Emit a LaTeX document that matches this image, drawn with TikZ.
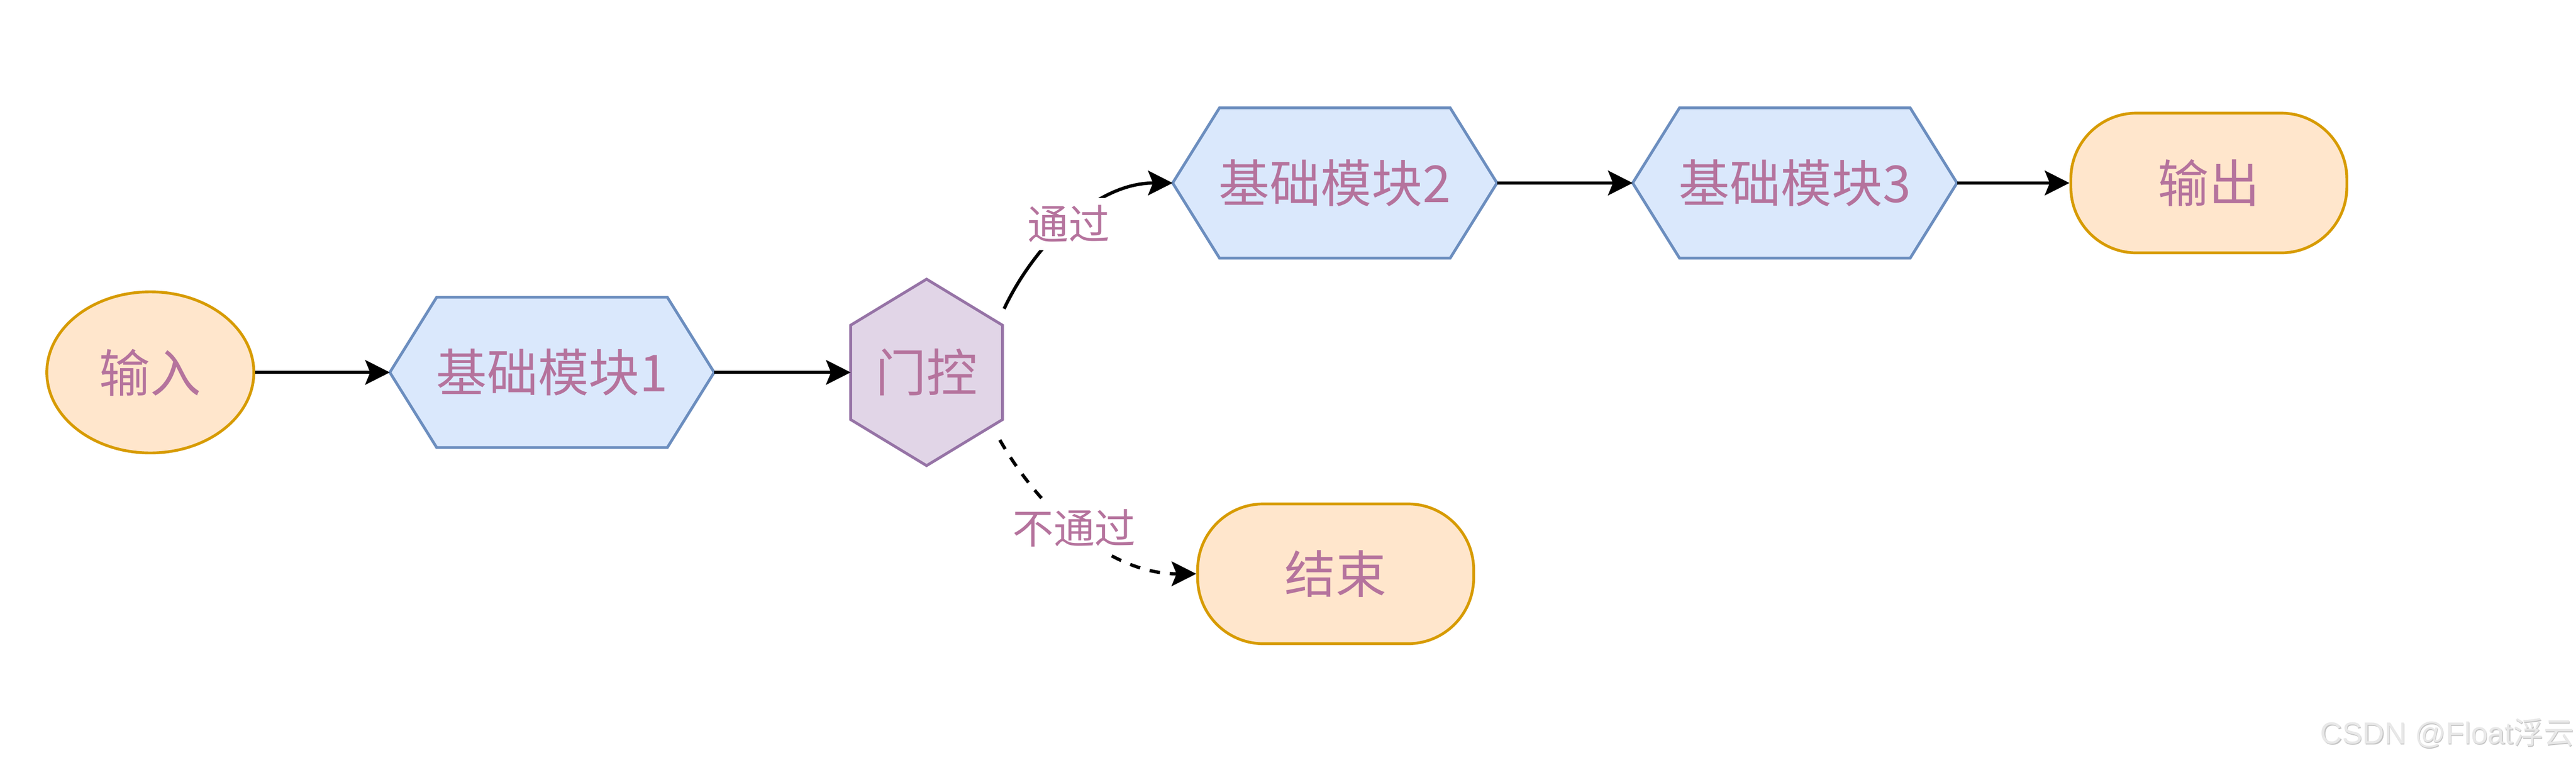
\documentclass[tikz,border=0pt]{standalone}
\usepackage{fontspec}
\setmainfont{Noto Sans CJK SC}
\newfontfamily\wmlatin{Liberation Sans}
\usetikzlibrary{arrows.meta,shapes.geometric,backgrounds}
\definecolor{txt}{HTML}{B5739D}
\definecolor{orfill}{HTML}{FFE6CC}
\definecolor{ordraw}{HTML}{D79B00}
\definecolor{blfill}{HTML}{DAE8FC}
\definecolor{bldraw}{HTML}{6C8EBF}
\definecolor{pufill}{HTML}{E1D5E7}
\definecolor{pudraw}{HTML}{9673A6}
\definecolor{wmtext}{HTML}{E8E8E8}
\definecolor{wmshadow}{HTML}{C4C4C4}
\begin{document}
\begin{tikzpicture}[x=1pt,y=-1pt,
  maintext/.style={text=txt,font=\fontsize{31}{31}\selectfont,inner sep=0pt},
  termnode/.style={maintext,draw=ordraw,fill=orfill,line width=1.7pt,rounded corners=40pt,minimum width=168pt,minimum height=85pt},
  innode/.style={maintext,ellipse,draw=ordraw,fill=orfill,line width=1.7pt,minimum width=126pt,minimum height=98pt},
  hexbox/.style={maintext,minimum width=197pt,minimum height=91pt},
  gatebox/.style={maintext,minimum width=92pt,minimum height=113pt},
  hexline/.style={draw=bldraw,fill=blfill,line width=1.7pt,line join=miter},
  gateline/.style={draw=pudraw,fill=pufill,line width=1.7pt,line join=miter},
  conn/.style={line width=2pt,-{Stealth[length=15pt,width=15pt,inset=3pt]}},
  lbl/.style={text=txt,font=\fontsize{25}{25}\selectfont,fill=white,inner sep=4.5pt},
  wmstyle/.style={anchor=base east,inner sep=0pt,font=\fontsize{18.5}{18.5}\selectfont},
]
\begin{scope}[on background layer]
  \fill[white] (0,0) rectangle (1568,462);
\end{scope}
\useasboundingbox (0,0) rectangle (1568,462);

% nodes
\node[innode] (in) at (91.5,226.5) {输入};
\node[hexbox] (m1) at (336,226.5) {基础模块1};
\node[gatebox] (gate) at (564,226.5) {门控};
\node[hexbox] (m2) at (812.5,111.3) {基础模块2};
\node[hexbox] (m3) at (1092.5,111.3) {基础模块3};
\node[termnode] (out) at (1344.5,111.3) {输出};
\node[termnode] (end) at (813,349) {结束};

% hexagon outlines behind the texts
\begin{scope}[on background layer]
  \foreach \m in {m1,m2,m3}{
    \path[hexline] (\m.west) -- ([xshift=28.5pt]\m.north west) -- ([xshift=-28.5pt]\m.north east)
      -- (\m.east) -- ([xshift=-28.5pt]\m.south east) -- ([xshift=28.5pt]\m.south west) -- cycle;
  }
  \path[gateline] (gate.north) -- ([yshift=-28pt]gate.north east) -- ([yshift=28pt]gate.south east)
    -- (gate.south) -- ([yshift=28pt]gate.south west) -- ([yshift=-28pt]gate.north west) -- cycle;
\end{scope}

% connectors
\draw[conn] (in.east) -- (m1.west);
\draw[conn] (m1.east) -- (gate.west);
\draw[conn] (m2.east) -- (m3.west);
\draw[conn] (m3.east) -- (out.west);
\draw[conn] ([xshift=1pt,yshift=-18pt]gate.north east) .. controls (628,152) and (665,111.3) .. (m2.west)
  node[lbl,pos=0.5] (pass) {通过};
\draw[conn,dash pattern=on 6.4pt off 6pt] ([xshift=-1.6pt,yshift=15.6pt]gate.south east) .. controls (628,302) and (670,349) .. (end.west)
  node[lbl,pos=0.5] (fail) {不通过};

% watermark
\node[wmstyle,text=wmshadow] (wms) at (1567.5,452.9) {{\wmlatin CSDN @Float}浮云};
\node[wmstyle,text=wmtext] (wm) at (1567,452.4) {{\wmlatin CSDN @Float}浮云};
\end{tikzpicture}
\end{document}
